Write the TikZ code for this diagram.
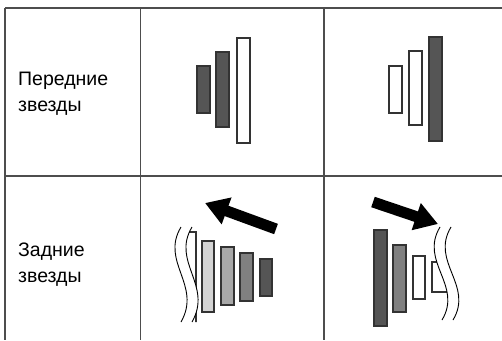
\documentclass[tikz,border=0pt]{standalone}
\usepackage{fontspec}
\setmainfont{Liberation Sans}
\usetikzlibrary{arrows.meta}
\definecolor{barD}{HTML}{555555}
\definecolor{barM}{HTML}{808080}
\definecolor{barL}{HTML}{A8A8A8}
\definecolor{barXL}{HTML}{D3D3D3}
\definecolor{rule}{HTML}{4D4D4D}
\tikzset{
  gridline/.style={draw=rule, line width=1.3pt},
  bar/.style={draw=black!80, line width=1.1pt},
  wave/.style={draw=black, line width=0.9pt},
  bigarrow/.style={line width=11pt, -{Triangle[length=23pt,width=27pt]}},
  lbl/.style={anchor=base west, inner sep=0pt, font=\fontsize{19.5}{26}\selectfont}
}
\begin{document}
\begin{tikzpicture}[x=1pt,y=-1pt]
\useasboundingbox (0,0) rectangle (502,340);
% table
\coordinate (t0) at (5,8);   \coordinate (t1) at (502,8);
\coordinate (m0) at (5,176); \coordinate (m1) at (502,176);
\coordinate (v0a) at (5,8);     \coordinate (v0b) at (5,340);
\coordinate (v1a) at (140.5,8); \coordinate (v1b) at (140.5,340);
\coordinate (v2a) at (324,8);   \coordinate (v2b) at (324,340);
\draw[gridline] (t0) -- (t1);
\draw[gridline] (m0) -- (m1);
\draw[gridline] (v0a) -- (v0b);
\draw[gridline] (v1a) -- (v1b);
\draw[gridline] (v2a) -- (v2b);
% labels
\node[lbl] (lf1) at (18,85.5) {Передние};
\node[lbl] (lf2) at (18,111.5) {звезды};
\node[lbl] (lr1) at (18,256) {Задние};
\node[lbl] (lr2) at (18,282) {звезды};
% top middle
\draw[bar, fill=barD] (197,66) rectangle (210,113);
\draw[bar, fill=barD] (216,52) rectangle (229,127);
\draw[bar, fill=white] (237,38) rectangle (250,143);
% top right
\draw[bar, fill=white] (389,66) rectangle (402,113);
\draw[bar, fill=white] (409,51) rectangle (422,125);
\draw[bar, fill=barD] (429,37) rectangle (442,141);
% bottom middle
\begin{scope}
  \clip (192,227) .. controls (171,262) and (213,285) .. (192,322) -- (260,322) -- (260,227) -- cycle;
  \draw[bar, fill=white] (180,232) rectangle (196,330);
\end{scope}
\draw[wave] (181,227) .. controls (160,262) and (202,285) .. (181,322);
\draw[wave] (192,227) .. controls (171,262) and (213,285) .. (192,322);
\draw[bar, fill=barXL] (202,241) rectangle (214,312);
\draw[bar, fill=barL] (221,247) rectangle (234,305);
\draw[bar, fill=barM] (240,253) rectangle (253,301);
\draw[bar, fill=barD] (260,259) rectangle (272,296);
\coordinate (a1s) at (276,229);
\coordinate (a1e) at (205,203);
\draw[bigarrow] (a1s) -- (a1e);
% bottom right
\draw[bar, fill=barD] (374,230) rectangle (387,326);
\draw[bar, fill=barM] (393,245) rectangle (406,312);
\draw[bar, fill=white] (413,256) rectangle (425,299);
\begin{scope}
  \clip (440,227) .. controls (419,262) and (463,285) .. (442,320) -- (400,320) -- (400,227) -- cycle;
  \draw[bar, fill=white] (432,262) rectangle (450,292);
\end{scope}
\draw[wave] (440,227) .. controls (419,262) and (463,285) .. (442,320);
\draw[wave] (451,227) .. controls (430,262) and (474,285) .. (453,320);
\coordinate (a2s) at (373,202);
\coordinate (a2e) at (438,224);
\draw[bigarrow] (a2s) -- (a2e);
\end{tikzpicture}
\end{document}
